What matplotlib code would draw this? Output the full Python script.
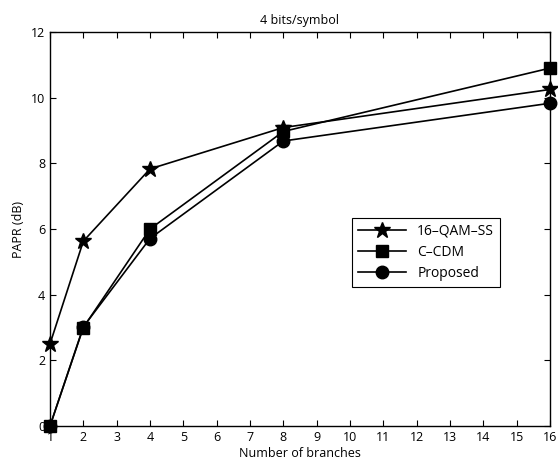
import matplotlib.pyplot as plt

plt.rcParams['font.family'] = ['Open Sans', 'DejaVu Sans']

branches = [1, 2, 4, 8, 16]
qam_ss = [2.5, 5.63, 7.83, 9.09, 10.25]
c_cdm = [0.0, 3.0, 6.0, 8.97, 10.9]
proposed = [0.0, 3.02, 5.71, 8.68, 9.83]

fig = plt.figure(figsize=(5.58, 4.68), dpi=100)
ax = fig.add_axes([50 / 558, 1 - 426 / 468, 500 / 558, 394 / 468])

ax.plot(branches, qam_ss, 'k-', marker='*', markersize=12, lw=1.2,
        clip_on=False, zorder=3, label='16\u2013QAM\u2013SS')
ax.plot(branches, c_cdm, 'k-', marker='s', markersize=8, lw=1.2,
        clip_on=False, zorder=3, label='C\u2013CDM')
ax.plot(branches, proposed, 'k-', marker='o', markersize=9, lw=1.2,
        clip_on=False, zorder=3, label='Proposed')

ax.set_xlim(1, 16)
ax.set_ylim(0, 12)
ax.set_xticks(range(1, 17))
ax.set_yticks(range(0, 13, 2))
ax.tick_params(direction='in', top=True, right=True, labelsize=9, length=4)
for s in ax.spines.values():
    s.set_linewidth(1.0)

ax.set_title('4 bits/symbol', fontsize=9)
ax.set_xlabel('Number of branches', fontsize=9, labelpad=2)
ax.set_ylabel('PAPR (dB)', fontsize=9)

leg = ax.legend(loc='upper left', bbox_to_anchor=(0.604, 0.528), fontsize=10,
                fancybox=False, edgecolor='black', framealpha=1,
                handlelength=3.5, labelspacing=0.45, borderaxespad=0)
leg.get_frame().set_linewidth(0.8)

fig.savefig('out.png', dpi=100)
